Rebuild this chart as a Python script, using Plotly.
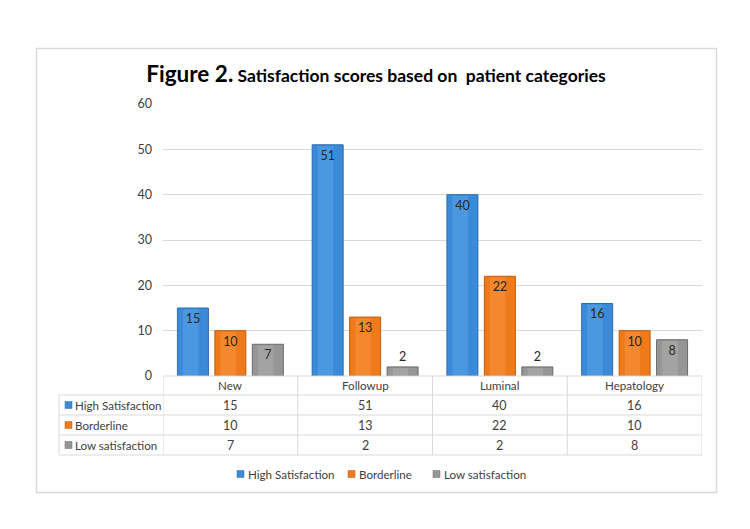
import plotly.graph_objects as go

categories = ["New", "Followup", "Luminal", "Hepatology"]
series_names = ["High Satisfaction", "Borderline", "Low satisfaction"]
high = [15, 51, 40, 16]
borderline = [10, 13, 22, 10]
low = [7, 2, 2, 8]
y_ticks = [0, 10, 20, 30, 40, 50, 60]

series_values = [high, borderline, low]
colors = ["#3B8AD8", "#EE7A1C", "#969696"]
light = ["#5FA8EE", "#F99A45", "#B4B4B4"]
edge = ["#2C6CB0", "#C05C0C", "#6A6A6A"]

FONT = "Lato, 'Open Sans', sans-serif"
W, H = 750, 529
L, R, T, B = 163, 48, 104, 153
PW, PH = W - L - R, H - T - B

def py(ypx):
    return (H - B - ypx) / PH

def px(xpx):
    return (xpx - L) / PW

BAR_W = 0.23
STEP = 0.278

fig = go.Figure()
for k, (name, vals, c, lc, e) in enumerate(zip(series_names, series_values, colors, light, edge)):
    center = (k - 1) * STEP
    off = center - BAR_W / 2
    fig.add_trace(go.Bar(
        x=categories, y=vals, name=name, width=BAR_W, offset=off,
        marker=dict(color=c, line=dict(color=e, width=1)),
        showlegend=False, hoverinfo="skip",
    ))
    fig.add_trace(go.Bar(
        x=categories, y=[v - 0.25 for v in vals], name=name, width=BAR_W * 0.5,
        offset=off + BAR_W * 0.18,
        marker=dict(color=lc, opacity=0.45, line=dict(width=0)),
        showlegend=False, hoverinfo="skip",
    ))
    fig.add_trace(go.Bar(
        x=categories, y=vals, name=name, width=BAR_W, offset=off,
        marker=dict(color="rgba(0,0,0,0)", line=dict(width=0)),
        text=[str(v) for v in vals],
        textposition=["inside" if v >= 5 else "outside" for v in vals],
        insidetextanchor="end", textangle=0, constraintext="none",
        textfont=dict(family=FONT, size=12.5, color="#262626"),
        showlegend=False, hoverinfo="skip", cliponaxis=False,
    ))

shapes = []
annotations = []
grey = "#D9D9D9"
row_lines = [376, 395, 415, 435, 455]
row_centers = [385.5, 405, 425, 445]
shapes.append(dict(type="line", xref="x", yref="paper", x0=-0.5, x1=len(categories) - 0.5,
                   y0=py(row_lines[0]), y1=py(row_lines[0]), line=dict(color=grey, width=1)))
for yl in row_lines[1:]:
    shapes.append(dict(type="line", xref="paper", yref="paper", x0=px(59), x1=1,
                       y0=py(yl), y1=py(yl), line=dict(color=grey, width=1)))
for i in range(len(categories) + 1):
    shapes.append(dict(type="line", xref="x", yref="paper", x0=i - 0.5, x1=i - 0.5,
                       y0=py(row_lines[0]), y1=py(row_lines[-1]), line=dict(color=grey, width=1)))
shapes.append(dict(type="line", xref="paper", yref="paper", x0=px(59), x1=px(59),
                   y0=py(row_lines[1]), y1=py(row_lines[-1]), line=dict(color=grey, width=1)))
shapes.append(dict(type="rect", xref="paper", yref="paper", x0=px(36.5), x1=px(716.5),
                   y0=py(492.5), y1=py(48.5), line=dict(color="#D9D9D9", width=1.5),
                   fillcolor="rgba(0,0,0,0)", layer="below"))

num_font = dict(family=FONT, size=12.5, color="#404040")
lab_font = dict(family=FONT, size=11.6, color="#404040")
for i, cat in enumerate(categories):
    annotations.append(dict(x=i, y=py(row_centers[0]), xref="x", yref="paper", text=cat,
                            xanchor="center", yanchor="middle", showarrow=False, font=lab_font))
for r, (name, vals, c, e) in enumerate(zip(series_names, series_values, colors, edge)):
    yc = py(row_centers[r + 1])
    shapes.append(dict(type="rect", xref="paper", yref="paper",
                       x0=px(65), x1=px(72), y0=py(row_centers[r + 1] + 3.5), y1=py(row_centers[r + 1] - 3.5),
                       fillcolor=c, line=dict(color=e, width=0.5)))
    annotations.append(dict(x=px(73), y=yc, xref="paper", yref="paper", text=name,
                            xanchor="left", yanchor="middle", showarrow=False, font=lab_font))
    for i, v in enumerate(vals):
        annotations.append(dict(x=i, y=yc, xref="x", yref="paper", text=str(v),
                                xanchor="center", yanchor="middle", showarrow=False, font=num_font))

legend_x = [237, 348, 433]
legend_y = 474
for name, c, e, lx in zip(series_names, colors, edge, legend_x):
    shapes.append(dict(type="rect", xref="paper", yref="paper",
                       x0=px(lx), x1=px(lx + 7), y0=py(legend_y + 3.5), y1=py(legend_y - 3.5),
                       fillcolor=c, line=dict(color=e, width=0.5)))
    annotations.append(dict(x=px(lx + 9), y=py(legend_y), xref="paper", yref="paper", text=name,
                            xanchor="left", yanchor="middle", showarrow=False, font=lab_font))

fig.update_layout(
    width=W, height=H,
    margin=dict(l=L, r=R, t=T, b=B),
    paper_bgcolor="white", plot_bgcolor="white",
    barmode="overlay",
    title=dict(
        text="<span style='font-size:22.5px'>Figure 2.</span> <span style='font-size:17.5px'>Satisfaction scores based on  patient categories</span>",
        x=376 / W, xanchor="center", y=1 - 76 / H, yanchor="middle",
        font=dict(family=FONT, size=17.5, color="#000000", weight="bold"),
    ),
    xaxis=dict(showticklabels=False, showgrid=False, showline=False, ticks="",
               range=[-0.5, len(categories) - 0.5]),
    yaxis=dict(range=[0, 60], tickvals=y_ticks, showgrid=True, gridcolor=grey, gridwidth=1,
               zeroline=False, showline=False, ticks="", ticklabelstandoff=10,
               tickfont=num_font),
    showlegend=False,
    shapes=shapes,
    annotations=annotations,
)

fig.write_html("out.html", config={"displayModeBar": False},
               post_script="document.body.style.margin='0';")
